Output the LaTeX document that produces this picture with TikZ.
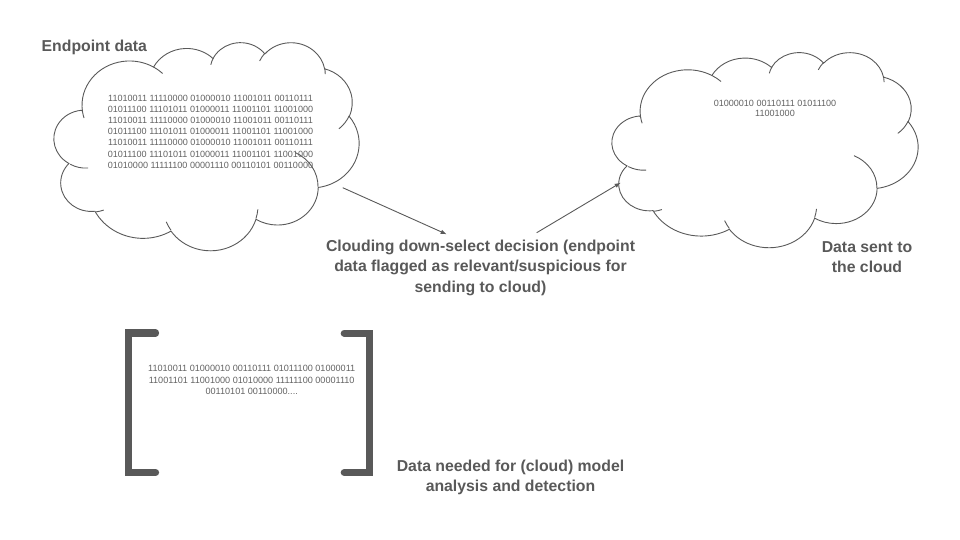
\documentclass[tikz,border=0pt]{standalone}
\usepackage{fontspec}
\setmainfont{Liberation Sans}
\usetikzlibrary{arrows.meta}

\definecolor{inkgray}{HTML}{595959}
\definecolor{bitgray}{HTML}{616161}

% cloud outline in a 43.2 x 43.2 box, y pointing down
\newcommand{\cloudoutline}{%
  \draw[cloudline] (3.900,14.370)
    arc[start angle=-187.75, end angle=-59.64, x radius=6.753, y radius=9.190]
    arc[start angle=-152.03, end angle=-45.46, x radius=5.333, y radius=7.267]
    arc[start angle=-153.48, end angle=-37.33, x radius=4.365, y radius=5.945]
    arc[start angle=-139.70, end angle=-10.21, x radius=4.857, y radius=6.595]
    arc[start angle=-74.77, end angle=23.21, x radius=5.333, y radius=7.273]
    arc[start angle=-37.59, end angle=81.86, x radius=6.775, y radius=9.220]
    arc[start angle=0.46, end angle=121.97, x radius=5.785, y radius=7.867]
    arc[start angle=16.85, end angle=146.22, x radius=6.752, y radius=9.215]
    arc[start angle=58.98, end angle=152.25, x radius=7.720, y radius=10.543]
    arc[start angle=-276.69, end angle=-136.91, x radius=4.360, y radius=5.918]
    arc[start angle=-239.67, end angle=-95.89, x radius=4.345, y radius=5.945]
    -- cycle;
  % inner curls
  \draw[cloudline]
    (4.693,26.177) arc[start angle=85.54, end angle=120.33, x radius=4.345, y radius=5.945]
    (6.928,34.899) arc[start angle=68.25, end angle=83.31, x radius=4.360, y radius=5.918]
    (16.478,39.090) arc[start angle=146.22, end angle=158.47, x radius=6.752, y radius=9.215]
    (28.827,34.751) arc[start angle=4.74, end angle=16.85, x radius=6.752, y radius=9.215]
    (34.129,22.954) arc[start angle=-64.01, end angle=0.46, x radius=5.785, y radius=7.867]
    (41.798,15.354) arc[start angle=23.21, end angle=49.67, x radius=5.333, y radius=7.273]
    (38.324,5.426) arc[start angle=-10.21, end angle=0.82, x radius=4.857, y radius=6.595]
    (29.078,3.952) arc[start angle=-156.28, end angle=-139.70, x radius=4.857, y radius=6.595]
    (22.141,4.720) arc[start angle=-167.73, end angle=-153.48, x radius=4.365, y radius=5.945]
    (14.000,5.192) arc[start angle=-59.64, end angle=-45.77, x radius=6.753, y radius=9.190]
    (4.127,15.789) arc[start angle=163.19, end angle=172.25, x radius=6.753, y radius=9.190];
}

\tikzset{
  cloudline/.style = {draw = inkgray, line width = 0.9bp},
  heading/.style = {text = inkgray, inner sep = 0pt, align = center,
    font = \fontsize{15.8bp}{20.5bp}\selectfont\bfseries},
  bits/.style = {text = bitgray, inner sep = 0pt, align = center,
    font = \fontsize{9.05bp}{11.1bp}\selectfont},
  bracket/.style = {draw = inkgray, line width = 7.3bp, line cap = round, line join = miter},
  flow/.style = {draw = inkgray, line width = 0.9bp, -{Latex[length = 6bp, width = 4.5bp]}}
}

\begin{document}
\begin{tikzpicture}[x = 1bp, y = -1bp]
    \useasboundingbox (0,0) rectangle (960,540);

    % endpoint cloud
    \begin{scope}[shift = {(55,42)}, xscale = 7.037, yscale = 4.815]
        \cloudoutline
    \end{scope}
    \node[heading, anchor = west] (endpointtitle) at (41.5,47) {Endpoint data};
    \node[bits] (endpointbits) at (210.5,131.7) {11010011 11110000 01000010 11001011 00110111\\
        01011100 11101011 01000011 11001101 11001000\\
        11010011 11110000 01000010 11001011 00110111\\
        01011100 11101011 01000011 11001101 11001000\\
        11010011 11110000 01000010 11001011 00110111\\
        01011100 11101011 01000011 11001101 11001000\\
        01010000 11111100 00001110 00110101 00110000};

    % cloud side
    \begin{scope}[shift = {(613,52)}, xscale = 7.06, yscale = 4.514]
        \cloudoutline
    \end{scope}
    \node[bits, font = \fontsize{9.05bp}{10.3bp}\selectfont] (sentbits) at (775,108.5) {01000010 00110111 01011100\\ 11001000};
    \node[heading] (senttitle) at (867,257) {Data sent to\\ the cloud};

    % decision
    \node[heading] (decision) at (480.5,267.5) {Clouding down-select decision (endpoint\\
        data flagged as relevant/suspicious for\\ sending to cloud)};
    \coordinate (endpointexit) at (342.7,187.7);
    \coordinate (decisionin) at (446.7,234.3);
    \coordinate (decisionout) at (536.7,232.7);
    \coordinate (cloudentry) at (620.7,182.7);
    \draw[flow] (endpointexit) -- (decisionin);
    \draw[flow] (decisionout) -- (cloudentry);

    % brackets
    \draw[bracket] (155.5,333) -- (128.7,333) -- (128.7,472.5) -- (155.5,472.5);
    \draw[bracket] (344.3,333.3) -- (369.7,333.3) -- (369.7,472.5) -- (344.3,472.5);
    \node[bits, font = \fontsize{9.1bp}{11.5bp}\selectfont] (neededbits) at (251.7,380) {11010011 01000010 00110111 01011100 01000011\\
        11001101 11001000 01010000 11111100 00001110\\ 00110101 00110000....};
    \node[heading] (neededtitle) at (510.5,477.5) {Data needed for (cloud) model\\ analysis and detection};
\end{tikzpicture}
\end{document}
